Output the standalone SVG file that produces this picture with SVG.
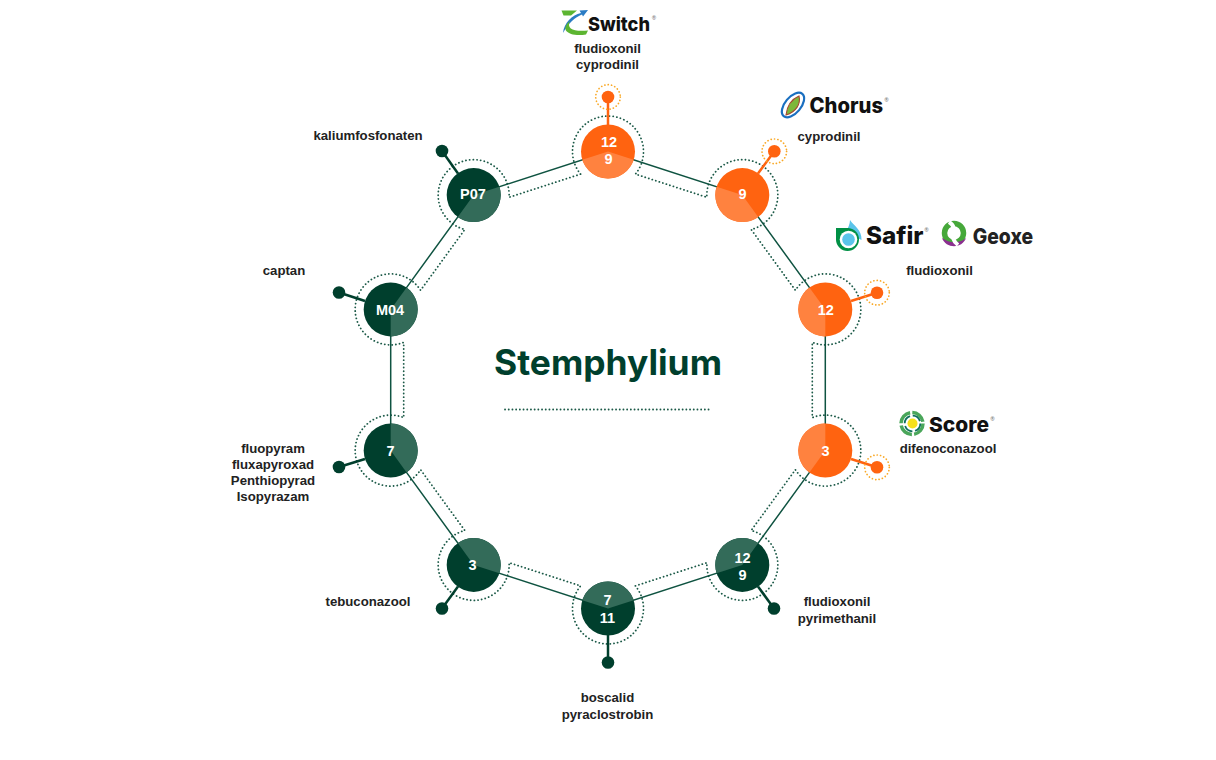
<svg xmlns="http://www.w3.org/2000/svg" width="1216" height="760" viewBox="0 0 1216 760">
<style>
text{font-family:"Liberation Sans",Arial,sans-serif;font-weight:700}
.lb{font-size:13.2px;fill:#222;text-anchor:middle}
.n{font-size:14.5px;fill:#fff;text-anchor:middle}
.brand{font-family:Inter,"Liberation Sans",sans-serif;font-size:19px;font-weight:800;fill:#111}
.reg{font-size:5.5px;font-weight:400;fill:#555}
.dk{fill:#003f2d}.lt{fill:#336b59}.or{fill:#ff6310}.ol{fill:#ff823f}
.pd{stroke:#003f2d;stroke-width:2.5;fill:none}.po{stroke:#ff6310;stroke-width:2.5;fill:none}
.halo{fill:none;stroke:#f9a825;stroke-width:1.7;stroke-dasharray:.1 3.3;stroke-linecap:round}
.dots{fill:none;stroke:#1c5a48;stroke-width:1.8;stroke-dasharray:.1 3.6;stroke-linecap:round}
.link{stroke:#0f5341;stroke-width:1.5;fill:none}
</style>
<g id="connectors">
<path class="dots" d="M580.6 174.1A35.5 35.5 0 1 1 635.4 174.1L706.9 197.3A35.5 35.5 0 1 1 751.2 229.5L795.4 290.3A35.5 35.5 0 1 1 812.3 342.4L812.3 417.6A35.5 35.5 0 1 1 795.4 469.7L751.2 530.5A35.5 35.5 0 1 1 706.9 562.7L635.4 585.9A35.5 35.5 0 1 1 580.6 585.9L509.1 562.7A35.5 35.5 0 1 1 464.8 530.5L420.6 469.7A35.5 35.5 0 1 1 403.7 417.6L403.7 342.4A35.5 35.5 0 1 1 420.6 290.3L464.8 229.5A35.5 35.5 0 1 1 509.1 197.3Z"/>
<path class="link" d="M608 151.5L742.3 195.1L825.3 309.4V450.6L742.3 564.9L608 608.5L473.7 564.9L390.7 450.6V309.4L473.7 195.1Z"/>
</g>
<g id="title">
<text x="494" y="375" style="font-family:Inter,'Liberation Sans',sans-serif;font-size:35px;fill:#003f2d" textLength="228" lengthAdjust="spacingAndGlyphs">Stemphylium</text>
<line class="dots" x1="505" y1="409.5" x2="712" y2="409.5"/>
</g>
<g id="node-0">
<line class="po" x1="608" y1="125" x2="608" y2="97"/><circle class="or" cx="608" cy="97" r="6.3"/><circle class="halo" cx="608" cy="97" r="12.3"/>
<circle class="or" cx="608" cy="151.5" r="27"/><path class="ol" d="M608 151.500L633.700 159.800A27 27 0 0 1 582.300 159.800Z"/>
<text class="n" x="609" y="147">12</text><text class="n" x="608.500" y="164">9</text>
<text class="lb" x="607.500" y="53">fludioxonil</text><text class="lb" x="607.500" y="69">cyprodinil</text>
</g>
<g id="node-1">
<line class="po" x1="758" y1="173.500" x2="774.300" y2="151.300"/><circle class="or" cx="774.300" cy="151.300" r="6.300"/><circle class="halo" cx="774.300" cy="151.300" r="12.300"/>
<circle class="or" cx="742.300" cy="195.100" r="27"/><path class="ol" d="M742.300 195.100L758.200 216.900A27 27 0 0 1 716.600 186.800Z"/>
<text class="n" x="742.500" y="199">9</text>
<text class="lb" x="829" y="141">cyprodinil</text>
</g>
<g id="node-2">
<line class="po" x1="851" y1="301" x2="877" y2="292.700"/><circle class="or" cx="877" cy="292.700" r="6.300"/><circle class="halo" cx="877" cy="292.700" r="12.300"/>
<circle class="or" cx="825.300" cy="309.400" r="27"/><path class="ol" d="M825.300 309.400L825.300 336.400A27 27 0 0 1 809.400 287.600Z"/>
<text class="n" x="825.700" y="315">12</text>
<text class="lb" x="939.500" y="275">fludioxonil</text>
</g>
<g id="node-3">
<line class="po" x1="851" y1="459" x2="877" y2="467.300"/><circle class="or" cx="877" cy="467.300" r="6.300"/><circle class="halo" cx="877" cy="467.300" r="12.300"/>
<circle class="or" cx="825.300" cy="450.600" r="27"/><path class="ol" d="M825.300 450.600L809.400 472.400A27 27 0 0 1 825.300 423.600Z"/>
<text class="n" x="825.500" y="455.500">3</text>
<text class="lb" x="948" y="453">difenoconazool</text>
</g>
<g id="node-4">
<line class="pd" x1="758" y1="586.500" x2="774" y2="608.500"/><circle class="dk" cx="774" cy="608.500" r="6.300"/>
<circle class="dk" cx="742.300" cy="564.900" r="27"/><path class="lt" d="M742.300 564.900L716.600 573.200A27 27 0 0 1 758.200 543.100Z"/>
<text class="n" x="742.500" y="562.700">12</text><text class="n" x="742.500" y="580">9</text>
<text class="lb" x="837" y="606">fludioxonil</text><text class="lb" x="837" y="623">pyrimethanil</text>
</g>
<g id="node-5">
<line class="pd" x1="608" y1="635" x2="608" y2="662.500"/><circle class="dk" cx="608" cy="662.500" r="6.300"/>
<circle class="dk" cx="608" cy="608.500" r="27"/><path class="lt" d="M608 608.500L582.300 600.200A27 27 0 0 1 633.700 600.200Z"/>
<text class="n" x="607.500" y="605">7</text><text class="n" x="607.500" y="622.700">11</text>
<text class="lb" x="607.500" y="702">boscalid</text><text class="lb" x="607.500" y="719">pyraclostrobin</text>
</g>
<g id="node-6">
<line class="pd" x1="458" y1="586.500" x2="442" y2="608.500"/><circle class="dk" cx="442" cy="608.500" r="6.300"/>
<circle class="dk" cx="473.700" cy="564.900" r="27"/><path class="lt" d="M473.700 564.900L457.800 543.100A27 27 0 0 1 499.400 573.200Z"/>
<text class="n" x="472.500" y="570">3</text>
<text class="lb" x="368" y="606">tebuconazool</text>
</g>
<g id="node-7">
<line class="pd" x1="365" y1="459" x2="339" y2="467"/><circle class="dk" cx="339" cy="467" r="6.300"/>
<circle class="dk" cx="390.700" cy="450.600" r="27"/><path class="lt" d="M390.700 450.600L390.700 423.600A27 27 0 0 1 406.600 472.400Z"/>
<text class="n" x="390.500" y="455.500">7</text>
<text class="lb" x="273" y="453">fluopyram</text><text class="lb" x="273" y="469">fluxapyroxad</text><text class="lb" x="273" y="485">Penthiopyrad</text><text class="lb" x="273" y="501">Isopyrazam</text>
</g>
<g id="node-8">
<line class="pd" x1="365" y1="301" x2="339" y2="292.500"/><circle class="dk" cx="339" cy="292.500" r="6.300"/>
<circle class="dk" cx="390.700" cy="309.400" r="27"/><path class="lt" d="M390.700 309.400L406.600 287.600A27 27 0 0 1 390.700 336.400Z"/>
<text class="n" x="390" y="315">M04</text>
<text class="lb" x="284" y="275">captan</text>
</g>
<g id="node-9">
<line class="pd" x1="458" y1="173.500" x2="442" y2="151"/><circle class="dk" cx="442" cy="151" r="6.300"/>
<circle class="dk" cx="473.700" cy="195.100" r="27"/><path class="lt" d="M473.700 195.100L499.400 186.800A27 27 0 0 1 457.800 216.900Z"/>
<text class="n" x="473" y="199">P07</text>
<text class="lb" x="368" y="140">kaliumfosfonaten</text>
</g>
<g id="logo-switch">
<path d="M561.500 10.500H577L571 15.500H563.500Z" fill="#5cb531"/>
<path d="M563 33C564 23 572 15 581 13L579.500 10.500L588 10L583 16.500L582 14.500C575 17 568 24 563 33Z" fill="#2a7cc4"/>
<path d="M570 21C566 29 574 32 588 30.500L586 34.500C569 37 559 30 570 21Z" fill="#5cb531"/>
<text class="brand" x="588" y="30.500" textLength="62" lengthAdjust="spacingAndGlyphs">Switch</text>
<text class="reg" x="652" y="19.500">®</text>
</g>
<g id="logo-chorus">
<ellipse cx="793" cy="105" rx="8" ry="14.500" transform="rotate(40 793 105)" fill="none" stroke="#1a6fc0" stroke-width="2.200"/>
<path d="M786 115C787 106 792 99 799 96C801 104 796 112 786 115Z" fill="#7cb83a" stroke="#a5472f" stroke-width="1.100"/>
<text class="brand" x="809.500" y="112.700" style="font-size:21px" textLength="73.500" lengthAdjust="spacingAndGlyphs">Chorus</text>
<text class="reg" x="884.500" y="101.500">®</text>
</g>
<g id="logo-safir">
<path d="M850 220C854 226 862 230 861.500 240L846 232C848 228 850 224 850 220Z" fill="#5bc4ea"/>
<path d="M836 228H848.500A11.500 11.500 0 1 1 836 240Z" fill="#009045"/>
<circle cx="848.500" cy="239.500" r="8.800" fill="#fff"/><circle cx="848.500" cy="239.500" r="6.300" fill="#5bc4ea"/>
<text class="brand" x="866" y="244.300" style="font-size:24px" textLength="57.500" lengthAdjust="spacingAndGlyphs">Safir</text>
<text class="reg" x="924.500" y="231.500">®</text>
</g>
<g id="logo-geoxe">
<circle cx="954" cy="233" r="9.500" fill="none" stroke="#46a83a" stroke-width="5.500"/>
<path d="M942 238C946 249 962 249 966 238C961 243 950 244 942 238Z" fill="#8b2f8f"/>
<path d="M949 222C960 229 947 237 958 245" fill="none" stroke="#fff" stroke-width="4"/>
<text class="brand" x="972.700" y="244.300" style="font-size:22px;font-variant:small-caps;fill:#222" textLength="60.500" lengthAdjust="spacingAndGlyphs">Geoxe</text>
</g>
<g id="logo-score">
<circle cx="912" cy="423.500" r="11" fill="none" stroke="#4aa65a" stroke-width="3.500" stroke-dasharray="15 2.280"/>
<circle cx="912.500" cy="423.500" r="7.800" fill="none" stroke="#0e6f5c" stroke-width="1.800" stroke-dasharray="9.500 2.750"/>
<circle cx="912.500" cy="423.500" r="5" fill="#f6e11c"/>
<text class="brand" x="929" y="431.700" style="font-size:20.500px" textLength="60" lengthAdjust="spacingAndGlyphs">Score</text>
<text class="reg" x="990.500" y="420.500">®</text>
</g>
</svg>
